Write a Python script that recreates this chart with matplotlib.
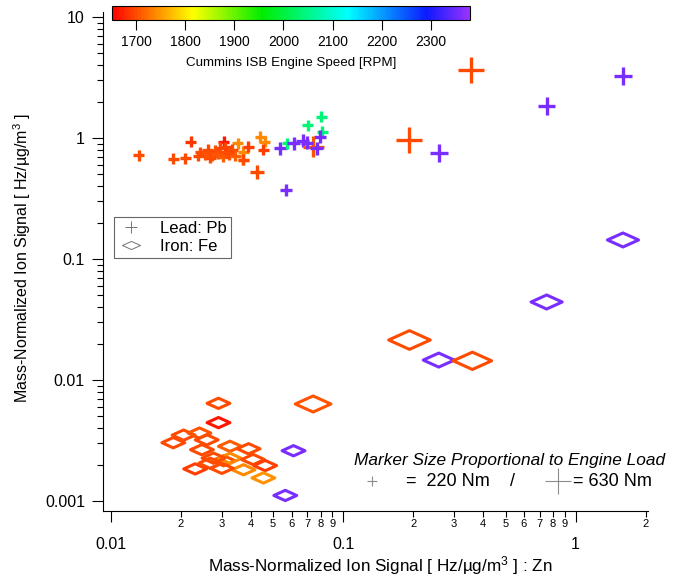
import numpy as np
import matplotlib
matplotlib.use('Agg')
import matplotlib.pyplot as plt
from matplotlib.colors import LinearSegmentedColormap, Normalize
from matplotlib.cm import ScalarMappable
from matplotlib.lines import Line2D
from matplotlib.path import Path
from matplotlib.ticker import FixedLocator, FixedFormatter, NullFormatter

plt.rcParams['font.family'] = ['Liberation Sans', 'DejaVu Sans']
plt.rcParams['mathtext.fontset'] = 'custom'
plt.rcParams['mathtext.rm'] = 'Liberation Sans'
plt.rcParams['mathtext.it'] = 'Liberation Sans:italic'

# Lead (Pb) vs zinc signal, with engine speed and load per sample
pb_zn = [0.193, 0.354, 0.258, 0.751, 1.60,
         0.0132, 0.0186, 0.0209, 0.0221, 0.0306, 0.0352, 0.0372, 0.0372, 0.0372,
         0.0243, 0.0255, 0.0262, 0.0273, 0.0281, 0.0290, 0.0296, 0.0305, 0.0314,
         0.0323, 0.0333, 0.0343, 0.0268, 0.0238, 0.0311, 0.0320, 0.0390,
         0.044, 0.046, 0.0454, 0.0426,
         0.0537, 0.0574, 0.0612, 0.067, 0.0706, 0.0806, 0.0815, 0.0796,
         0.0745, 0.077, 0.0568, 0.070]
pb_sig = [0.96, 3.65, 0.75, 1.84, 3.25,
          0.723, 0.671, 0.68, 0.932, 0.93, 0.904, 0.77, 0.66, 0.66,
          0.766, 0.724, 0.796, 0.710, 0.781, 0.738, 0.827, 0.697, 0.766,
          0.724, 0.796, 0.710, 0.684, 0.710, 0.842, 0.752, 0.847,
          1.02, 0.93, 0.796, 0.527,
          0.822, 0.904, 0.904, 0.95, 1.28, 1.50, 1.13, 1.025,
          0.847, 0.82, 0.372, 0.915]
pb_rpm = [1700, 1700, 2360, 2360, 2360,
          1700, 1700, 1700, 1685, 1665, 1740, 1740, 1740, 1700,
          1700, 1705, 1700, 1710, 1700, 1705, 1700, 1710, 1700,
          1705, 1700, 1710, 1700, 1700, 1695, 1700, 1690,
          1740, 1740, 1690, 1700,
          2360, 2040, 2360, 2360, 2040, 2040, 2040, 2360,
          1705, 2360, 2360, 2360]
pb_load = [630, 630, 400, 400, 420,
           220, 220, 220, 220, 220, 220, 220, 220, 220,
           220, 220, 220, 220, 220, 220, 220, 220, 220,
           220, 220, 220, 220, 220, 220, 220, 220,
           220, 220, 220, 300,
           260, 220, 260, 260, 220, 220, 220, 260,
           500, 260, 230, 260]

# Iron (Fe) vs zinc signal
fe_zn = [0.193, 0.258, 0.36, 0.751, 1.60, 0.0743,
         0.0291, 0.0291, 0.0612, 0.0564, 0.0186, 0.0206, 0.0241, 0.0259, 0.0247,
         0.0326, 0.0392, 0.0231, 0.0268, 0.0306, 0.0326, 0.041, 0.0462, 0.0373,
         0.0454, 0.0301, 0.0277]
fe_sig = [0.0214, 0.0146, 0.0144, 0.0441, 0.1436, 0.00633,
          0.00641, 0.00444, 0.0026, 0.00111, 0.00303, 0.0035, 0.00364, 0.0032, 0.00265,
          0.00283, 0.0027, 0.00184, 0.00205, 0.00215, 0.00225, 0.0022, 0.00196, 0.00181,
          0.00155, 0.00186, 0.00226]
fe_rpm = [1700, 2360, 1700, 2360, 2360, 1705,
          1700, 1665, 2360, 2360, 1700, 1700, 1705, 1700, 1700,
          1710, 1700, 1690, 1700, 1705, 1740, 1700, 1690, 1740,
          1745, 1700, 1700]
fe_load = [630, 400, 560, 400, 400, 500,
           220, 220, 220, 220, 220, 220, 220, 220, 220,
           220, 220, 220, 220, 220, 220, 220, 220, 220,
           220, 220, 220]

rpm_min, rpm_max = 1650, 2380
cbar_ticks = [1700, 1800, 1900, 2000, 2100, 2200, 2300]
load_small, load_large = 220, 630

# rainbow, red -> yellow -> green -> cyan -> blue -> violet
cmap = LinearSegmentedColormap.from_list('igor_rainbow', [
    (0.0, (1.0, 0.0, 0.0)),
    (0.226, (1.0, 1.0, 0.0)),
    (0.42, (0.0, 0.93, 0.0)),
    (0.66, (0.0, 1.0, 1.0)),
    (0.88, (0.05, 0.1, 1.0)),
    (1.0, (0.6, 0.2, 1.0)),
])
norm = Normalize(rpm_min, rpm_max)

# flattened diamond outline
diamond = Path([(-1, 0), (0, 0.45), (1, 0), (0, -0.45), (-1, 0)],
               [Path.MOVETO, Path.LINETO, Path.LINETO, Path.LINETO, Path.CLOSEPOLY])


def plus_size(load):
    return 7.9 + (np.asarray(load) - load_small) * 10.8 / (load_large - load_small)


def diamond_size(load):
    return 16.5 + (np.asarray(load) - load_small) * 13.5 / (load_large - load_small)


W, H = 677, 581
fig = plt.figure(figsize=(W / 100, H / 100), dpi=100)
ax = fig.add_axes([103 / W, 1 - 511 / H, (648 - 103) / W, (511 - 12) / H])

ax.scatter(fe_zn, fe_sig, s=diamond_size(fe_load) ** 2, marker=diamond,
           facecolors='none', edgecolors=cmap(norm(fe_rpm)), linewidths=2.2)
ax.scatter(pb_zn, pb_sig, s=plus_size(pb_load) ** 2, marker='+',
           c=cmap(norm(pb_rpm)), linewidths=2.4)

ax.set_xscale('log')
ax.set_yscale('log')
ax.set_xlim(0.00927, 2.05)
ax.set_ylim(0.000826, 11.0)

for side in ['top', 'right']:
    ax.spines[side].set_visible(False)
ax.spines['left'].set_linewidth(0.8)
ax.spines['bottom'].set_linewidth(0.8)

ax.set_yticks([0.001, 0.01, 0.1, 1, 10])
ax.set_yticklabels(['0.001', '0.01', '0.1', '1', '10'])
ax.yaxis.set_minor_locator(FixedLocator([k * 10.0 ** e for e in range(-3, 1) for k in range(2, 10)]))
ax.yaxis.set_minor_formatter(NullFormatter())

ax.set_xticks([0.01, 0.1, 1])
ax.set_xticklabels(['0.01', '0.1', '1'])
minor_x = [k * 10.0 ** e for e in (-2, -1) for k in range(2, 10)] + [2]
ax.xaxis.set_minor_locator(FixedLocator(minor_x))
ax.xaxis.set_minor_formatter(FixedFormatter([str(k) for k in range(2, 10)] * 2 + ['2']))

ax.tick_params(axis='both', which='major', direction='out', length=8, width=0.8,
               labelsize=11.5)
ax.tick_params(axis='both', which='minor', direction='out', length=4.5, width=0.8)
ax.tick_params(axis='x', which='major', pad=11)
ax.tick_params(axis='x', which='minor', pad=1.5, labelsize=8)
ax.tick_params(axis='y', which='major', pad=5)

fig.text(22 / W, 1 - 258 / H, 'Mass-Normalized Ion Signal [ Hz/µg/m$^{3}$ ]',
         rotation=90, ha='center', va='center', fontsize=11.5)
fig.text(380 / W, 1 - 566 / H, 'Mass-Normalized Ion Signal [ Hz/µg/m$^{3}$ ] : Zn',
         ha='center', va='center', fontsize=12.3)

# legend for the two elements
handles = [
    Line2D([], [], ls='none', marker='+', ms=9, mew=0.7, color='0.45', label='Lead: Pb'),
    Line2D([], [], ls='none', marker=diamond, ms=13, mew=0.7, mfc='none',
           color='0.45', label='Iron: Fe'),
]
leg = ax.legend(handles=handles, loc='upper left', bbox_to_anchor=(0.02, 0.59),
                frameon=True, fancybox=False, edgecolor='0.25', fontsize=12,
                handlelength=1.6, handletextpad=0.9, borderpad=0.25,
                labelspacing=0.2, borderaxespad=0)
leg.get_frame().set_linewidth(0.8)

# marker size key
fig.text(510 / W, 1 - 460 / H, 'Marker Size Proportional to Engine Load',
         ha='center', va='center', fontsize=12.4, style='italic')
key_y = 1 - 481 / H
fig.add_artist(Line2D([372 / W], [key_y], ls='none', marker='+', ms=plus_size(load_small),
                      mew=0.8, color='0.55'))
fig.add_artist(Line2D([558 / W], [key_y], ls='none', marker='+', ms=plus_size(load_large),
                      mew=0.8, color='0.55'))
fig.text(406 / W, key_y, f'=  {load_small} Nm', ha='left', va='center', fontsize=13)
fig.text(513 / W, key_y, '/', ha='center', va='center', fontsize=13)
fig.text(573 / W, key_y, f'= {load_large} Nm', ha='left', va='center', fontsize=13)

# engine speed colour scale
cax = fig.add_axes([111.7 / W, 1 - 19.5 / H, (470 - 111.7) / W, (19.5 - 5.5) / H])
cb = fig.colorbar(ScalarMappable(norm=norm, cmap=cmap), cax=cax, orientation='horizontal')
cb.set_ticks(cbar_ticks)
cb.outline.set_linewidth(0.8)
cax.tick_params(axis='x', direction='out', length=7, width=0.8, labelsize=10, pad=4)
cb.set_label('Cummins ISB Engine Speed [RPM]', fontsize=9.6, labelpad=6)

fig.savefig('out.png', dpi=100)
